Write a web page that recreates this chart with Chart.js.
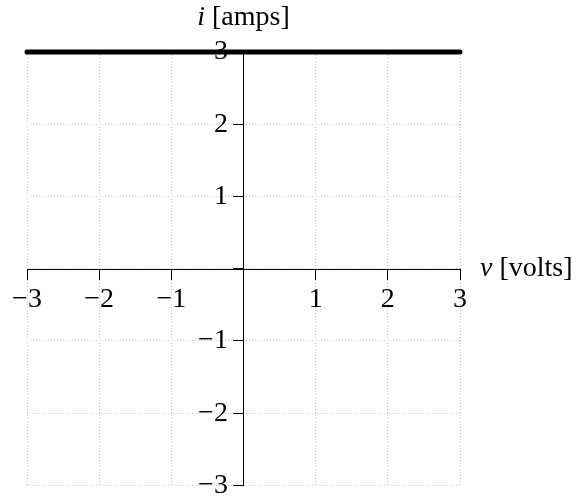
<!DOCTYPE html>
<html>
<head>
<meta charset="utf-8">
<script src="https://cdn.jsdelivr.net/npm/chart.js@4.4.0/dist/chart.umd.min.js"></script>
<style>
  html, body { margin: 0; padding: 0; background: #fff; }
  #wrap { width: 580px; height: 498px; position: relative; }
</style>
</head>
<body>
<div id="wrap"><canvas id="chart"></canvas></div>
<script>
// Chart data
const voltage = [-3, 3];
const current = [3, 3];
const xTicks = [-3, -2, -1, 0, 1, 2, 3];
const yTicks = [-3, -2, -1, 0, 1, 2, 3];
const xTitle = { italic: 'v', rest: ' [volts]' };
const yTitle = { italic: 'i', rest: ' [amps]' };

const SERIF = '"Liberation Serif", "DejaVu Serif", serif';
const FONT_SIZE = 28;

// Draw the axis titles next to the axis ends
const axisTitles = {
    id: 'axisTitles',
    afterDraw(chart) {
        const ctx = chart.ctx;
        const xs = chart.scales.x;
        const ys = chart.scales.y;
        ctx.save();
        ctx.fillStyle = '#000';
        ctx.textBaseline = 'middle';

        function drawTitle(t, x, y, align) {
            ctx.font = 'italic ' + FONT_SIZE + 'px ' + SERIF;
            const w1 = ctx.measureText(t.italic).width;
            ctx.font = FONT_SIZE + 'px ' + SERIF;
            const w2 = ctx.measureText(t.rest).width;
            let start = x;
            if (align === 'center') start = x - (w1 + w2) / 2;
            ctx.textAlign = 'left';
            ctx.font = 'italic ' + FONT_SIZE + 'px ' + SERIF;
            ctx.fillText(t.italic, start, y);
            ctx.font = FONT_SIZE + 'px ' + SERIF;
            ctx.fillText(t.rest, start + w1, y);
        }

        drawTitle(xTitle, xs.right + 20, ys.getPixelForValue(0), 'left');
        drawTitle(yTitle, xs.getPixelForValue(0), ys.top - 34, 'center');
        ctx.restore();
    }
};

function tickLabel(value) {
    if (value === 0) return '';
    return value < 0 ? '\u2212' + Math.abs(value) : String(value);
}

const gridStyle = {
    color: '#c4c4c4',
    lineWidth: 1,
    tickColor: '#000',
    tickBorderDash: [],
    tickLength: 10,
    drawOnChartArea: true
};

const borderStyle = { color: '#000', width: 1, dash: [1, 2] };

new Chart(document.getElementById('chart'), {
    type: 'scatter',
    data: {
        datasets: [{
            data: voltage.map((v, i) => ({ x: v, y: current[i] })),
            showLine: true,
            borderColor: '#000',
            borderWidth: 5,
            borderCapStyle: 'round',
            pointRadius: 0,
            clip: false
        }]
    },
    options: {
        responsive: true,
        maintainAspectRatio: false,
        animation: false,
        layout: { padding: { left: 27, right: 120, top: 52, bottom: 0 } },
        plugins: {
            legend: { display: false },
            tooltip: { enabled: false }
        },
        scales: {
            x: {
                type: 'linear',
                position: 'center',
                min: -3,
                max: 3,
                afterBuildTicks: scale => { scale.ticks = xTicks.map(v => ({ value: v })); },
                grid: gridStyle,
                border: borderStyle,
                ticks: {
                    color: '#000',
                    font: { family: SERIF, size: FONT_SIZE },
                    padding: 4,
                    maxRotation: 0,
                    autoSkip: false,
                    callback: tickLabel
                }
            },
            y: {
                type: 'linear',
                position: 'center',
                min: -3,
                max: 3,
                afterBuildTicks: scale => { scale.ticks = yTicks.map(v => ({ value: v })); },
                grid: gridStyle,
                border: borderStyle,
                ticks: {
                    color: '#000',
                    font: { family: SERIF, size: FONT_SIZE, lineHeight: 0.9 },
                    padding: 0,
                    autoSkip: false,
                    // a thin trailing space keeps the label clear of the tick mark
                    callback: v => tickLabel(v) === '' ? '' : tickLabel(v) + '\u2009'
                }
            }
        }
    },
    plugins: [axisTitles]
});
</script>
</body>
</html>
